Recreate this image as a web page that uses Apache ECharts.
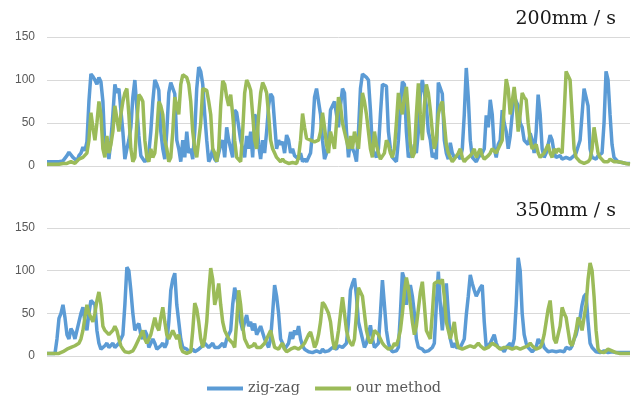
<!DOCTYPE html>
<html>
<head>
<meta charset="utf-8">
<script src="https://cdn.jsdelivr.net/npm/echarts@6/dist/echarts.min.js"></script>
<style>html,body{margin:0;padding:0;background:#fff}#c{width:631px;height:400px}</style>
</head>
<body>
<div id="c"></div>
<script>
// Panel titles and series names
const panelTitles = ['200mm / s', '350mm / s'];
const seriesNames = ['zig-zag', 'our method'];
const yTicks = [0, 50, 100, 150];

// Top panel (200mm/s), values
const zigzag200 = [5,5,5,5,5,5,5,5,6,8,12,16,18,10,8,6,12,15,22,18,28,75,107,104,100,95,103,98,75,20,25,8,30,60,95,85,90,92,40,8,20,30,45,80,100,98,35,12,10,5,8,15,40,75,100,95,88,40,20,8,40,85,97,95,84,30,20,5,30,10,40,15,20,8,40,90,115,110,95,60,30,5,10,20,8,5,15,25,30,10,45,30,20,10,65,62,60,30,20,10,35,20,40,10,60,55,25,8,30,15,40,70,84,80,50,20,30,25,28,15,36,30,15,20,12,10,8,15,5,8,5,3,15,40,80,90,92,60,30,8,15,30,65,70,75,60,45,70,90,85,40,10,30,20,15,5,40,90,107,105,103,100,65,20,15,10,20,60,95,97,93,40,20,10,10,5,30,70,98,95,40,10,15,10,25,15,40,85,100,98,70,40,30,10,15,8,97,95,84,30,15,8,27,15,10,8,12,8,20,60,114,80,30,10,8,5,10,8,15,20,59,45,77,60,20,10,25,30,65,50,40,20,35,60,81,75,70,50,45,30,30,25,38,30,15,40,83,60,20,10,15,25,36,30,15,10,10,12,8,10,10,8,8,10,12,15,15,30,60,90,92,70,20,10,10,8,12,10,15,50,110,100,60,25,10,8,5,4,4,3,3,3,3];
const ours200 = [2,2,2,2,2,2,2,2,3,3,3,4,5,4,3,5,8,6,10,12,15,30,62,45,30,50,75,60,20,10,35,15,25,40,70,55,40,60,75,85,90,60,20,5,10,50,83,80,75,30,10,5,20,10,15,40,75,70,60,30,20,5,10,40,80,70,60,95,106,105,103,95,75,40,20,10,10,50,90,92,88,75,60,20,15,5,20,70,99,95,80,70,83,60,30,10,10,5,40,85,100,95,88,60,30,20,60,85,97,92,85,60,30,20,15,10,10,5,8,5,5,3,5,4,5,3,10,30,61,45,32,30,30,30,28,29,30,40,62,45,25,15,40,30,20,50,80,70,50,40,30,20,35,20,40,30,20,50,85,75,60,40,20,10,40,25,15,8,10,15,30,25,15,10,20,50,85,70,60,80,92,60,25,10,15,60,96,60,30,70,95,85,65,40,20,30,60,70,75,50,25,15,10,5,8,10,15,20,10,5,8,10,12,15,20,10,15,20,12,8,10,12,15,20,20,15,15,25,30,70,101,90,60,75,92,70,40,60,85,80,77,50,30,20,20,25,15,10,10,15,20,25,15,10,20,15,20,20,15,60,110,108,100,60,20,10,8,5,5,3,5,5,8,20,45,30,15,10,8,5,5,5,8,10,5,5,5,4,4,3,3,3,2];

// Bottom panel (350mm/s)
const zigzag350 = [3,3,3,3,3,20,44,50,60,45,25,20,32,28,20,30,40,50,57,40,30,50,65,66,60,30,15,8,10,12,15,10,12,15,10,8,15,20,25,60,104,100,77,50,30,35,38,25,20,30,25,10,15,20,15,8,10,12,15,10,15,40,77,90,97,60,40,20,10,8,8,5,5,8,5,6,8,10,12,15,15,10,12,15,10,8,10,12,15,10,20,25,30,60,80,70,55,40,30,40,48,35,40,30,38,25,30,35,35,20,15,10,20,50,83,70,50,20,15,8,10,15,28,20,30,25,35,20,12,8,8,5,5,4,5,6,5,4,8,5,5,6,8,10,10,8,12,10,10,12,15,40,77,85,91,70,40,30,20,10,15,25,36,20,10,8,15,50,89,60,30,15,8,5,5,6,10,50,98,90,60,75,83,70,50,20,10,8,8,5,5,6,8,10,15,60,99,60,30,60,85,50,20,10,15,10,12,10,15,20,48,70,95,85,77,70,75,80,83,40,10,8,15,20,25,15,10,8,8,5,10,12,15,10,20,60,115,100,50,25,15,10,8,5,5,10,20,15,18,10,8,5,5,6,8,5,5,6,8,5,10,8,8,12,20,25,35,45,60,70,73,40,15,10,8,5,5,4,5,6,5,4,4,5,5,4,3,4,5,4,3,4,4];
const ours350 = [3,3,3,3,3,3,3,4,5,6,8,10,10,8,12,10,15,20,30,45,60,50,45,40,50,65,75,60,35,30,30,25,25,30,35,30,20,12,8,5,5,4,5,6,10,15,20,25,30,20,15,20,25,35,45,35,30,45,57,40,25,20,20,30,25,20,25,10,5,4,3,4,5,30,62,55,40,20,10,20,40,75,103,90,60,70,85,60,40,30,25,20,20,15,10,40,77,60,35,20,15,10,10,12,15,10,8,10,12,15,20,25,30,20,10,8,8,12,15,8,5,6,8,10,10,8,8,10,12,15,20,25,28,20,10,15,25,40,63,60,55,50,40,20,8,15,30,50,69,50,30,20,15,12,20,50,80,75,70,50,30,20,15,20,30,28,25,20,15,12,10,8,8,10,15,12,20,30,50,75,92,80,60,40,25,35,55,75,87,60,30,25,20,50,85,87,88,85,90,70,40,30,20,30,40,20,10,8,8,10,10,8,12,10,10,12,15,12,10,8,8,10,12,15,15,12,10,8,8,10,12,10,10,8,8,10,10,8,8,10,10,12,15,12,10,8,8,10,15,25,40,55,65,40,20,15,15,35,57,50,45,30,15,12,20,30,45,40,30,45,60,90,109,100,70,30,8,5,5,4,5,8,10,6,5,4,3,3,3,3,3,3,3];

// Sample index categories (no labels shown)
const categories = zigzag200.map((_, i) => String(i));

const blue = '#5B9BD5';
const green = '#9BBB59';
const gridColor = '#D9D9D9';
const labelColor = '#595959';

const chart = echarts.init(document.getElementById('c'), null, {renderer: 'canvas'});

function xAx(gi) {
  return {
    type: 'category', gridIndex: gi, data: categories, boundaryGap: false,
    axisLine: {show: false}, axisTick: {show: false}, axisLabel: {show: false}, splitLine: {show: false}
  };
}
function yAx(gi) {
  return {
    type: 'value', gridIndex: gi, min: yTicks[0], max: yTicks[yTicks.length - 1], interval: 50,
    axisLine: {show: false}, axisTick: {show: false},
    axisLabel: {color: labelColor, fontSize: 12, fontFamily: 'Liberation Sans', margin: 12},
    splitLine: {lineStyle: {color: gridColor, width: 1}}
  };
}
function ser(name, gi, data, color) {
  return {
    name: name, type: 'line', xAxisIndex: gi, yAxisIndex: gi, data: data,
    symbol: 'none', lineStyle: {color: color, width: 3.5}, itemStyle: {color: color},
    emphasis: {disabled: true}
  };
}

chart.setOption({
  animation: false,
  backgroundColor: '#fff',
  title: [
    {text: panelTitles[0], right: 10, top: 5, textStyle: {fontFamily: 'DejaVu Serif', fontWeight: 'normal', fontSize: 19, color: '#1a1a1a'}},
    {text: panelTitles[1], right: 10, top: 197, textStyle: {fontFamily: 'DejaVu Serif', fontWeight: 'normal', fontSize: 19, color: '#1a1a1a'}}
  ],
  grid: [
    {left: 47, right: 1, top: 37, height: 129},
    {left: 47, right: 1, top: 228, height: 128}
  ],
  xAxis: [xAx(0), xAx(1)],
  yAxis: [yAx(0), yAx(1)],
  legend: {
    data: seriesNames, top: 381, left: 207, padding: 0, icon: 'rect', itemWidth: 36, itemHeight: 4, itemGap: 15,
    textStyle: {color: labelColor, fontSize: 14.5, fontFamily: 'DejaVu Serif'}
  },
  series: [
    ser(seriesNames[0], 0, zigzag200, blue),
    ser(seriesNames[1], 0, ours200, green),
    ser(seriesNames[0], 1, zigzag350, blue),
    ser(seriesNames[1], 1, ours350, green)
  ]
});
</script>
</body>
</html>
